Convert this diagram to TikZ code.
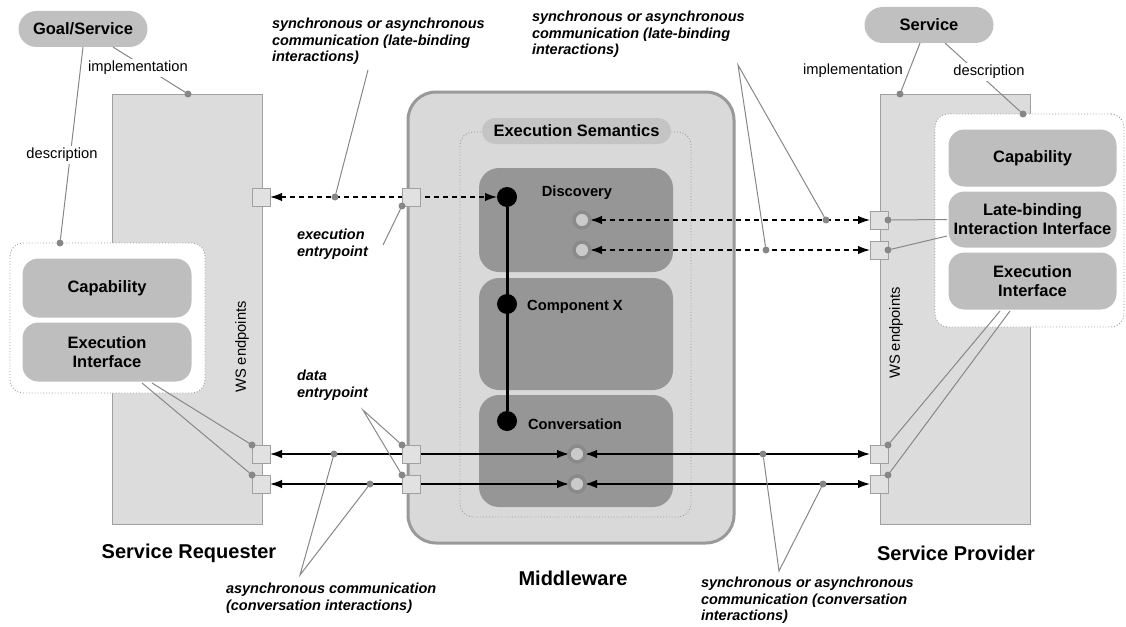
\documentclass[tikz,border=0pt]{standalone}
\usepackage{fontspec}
\setmainfont{Liberation Sans}
\usetikzlibrary{arrows.meta}

\definecolor{hostfill}{HTML}{DCDCDC}
\definecolor{hostline}{HTML}{A0A0A0}
\definecolor{mwfill}{HTML}{D9D9D9}
\definecolor{mwline}{HTML}{999999}
\definecolor{compfill}{HTML}{969696}
\definecolor{capfill}{HTML}{BEBEBE}
\definecolor{pillfill}{HTML}{C0C0C0}
\definecolor{esfill}{HTML}{C4C4C4}
\definecolor{portfill}{HTML}{E1E1E1}
\definecolor{portline}{HTML}{A0A0A0}
\definecolor{leader}{HTML}{878787}
\definecolor{ringline}{HTML}{8A8A8A}
\definecolor{ringfill}{HTML}{CACACA}
\definecolor{regionline}{HTML}{9A9A9A}

\pgfdeclarelayer{back}
\pgfdeclarelayer{wires}
\pgfsetlayers{back,wires,main}

\begin{document}
\begin{tikzpicture}[x=1pt,y=-1pt,
  every node/.style={inner sep=0pt, outer sep=0pt},
  lbl/.style={font=\fontsize{14.7}{17}\selectfont},
  cutlbl/.style={lbl, fill=white, inner sep=2pt},
  ital/.style={font=\fontsize{14.5}{16.5}\selectfont\bfseries\itshape, align=left, anchor=north west},
  boxlbl/.style={font=\fontsize{16.5}{19}\selectfont\bfseries, align=center},
  complbl/.style={font=\fontsize{14.7}{17}\selectfont\bfseries},
  title/.style={font=\fontsize{20}{24}\selectfont\bfseries},
  hostrect/.style={draw=hostline, fill=hostfill, line width=1pt, rectangle},
  mwbox/.style={draw=mwline, fill=mwfill, line width=3pt, rounded corners=28pt, rectangle},
  region/.style={draw=regionline, dotted, line width=0.9pt, rounded corners=13pt, rectangle},
  comp/.style={fill=compfill, rounded corners=20pt, rectangle},
  capbox/.style={boxlbl, draw=white, fill=capfill, line width=3pt, rounded corners=17pt, rectangle},
  pill/.style={boxlbl, fill=pillfill, rounded corners=18pt, minimum width=129pt, minimum height=36pt},
  espill/.style={boxlbl, fill=esfill, rounded corners=13pt},
  port/.style={draw=portline, fill=portfill, line width=1pt, minimum size=18pt, rectangle},
  bdot/.style={circle, fill=black, minimum size=20pt},
  ring/.style={circle, draw=ringline, fill=ringfill, line width=3.5pt, minimum size=16pt},
  tack/.style={circle, fill=leader, minimum size=7pt},
  lead/.style={draw=leader, line width=1pt},
  dasharrow/.style={line width=1.4pt, dash pattern=on 5pt off 4pt, {Latex[length=12pt,width=8.5pt]}-{Latex[length=12pt,width=8.5pt]}},
  solidarrow/.style={line width=1.3pt, {Latex[length=12pt,width=8.5pt]}-{Latex[length=12pt,width=8.5pt]}},
]
\useasboundingbox (0,0) rectangle (1126,626);

% ---------- containers and boxes ----------
\begin{pgfonlayer}{back}
  \node[hostrect, minimum width=150pt, minimum height=430pt] (req) at (187,309) {};
  \node[hostrect, minimum width=150pt, minimum height=430pt] (prov) at (955,309) {};
  \node[mwbox, minimum width=326pt, minimum height=451pt] (mw) at (571,317.5) {};
  \node[region, minimum width=231pt, minimum height=385pt] (es) at (575.5,324.5) {};
  \node[espill, minimum width=189pt, minimum height=26pt] (esl) at (576.5,131) {Execution Semantics};
  \node[comp, minimum width=194pt, minimum height=104pt] (disc) at (576,220) {};
  \node[comp, minimum width=194pt, minimum height=112pt] (cx) at (576,334) {};
  \node[comp, minimum width=194pt, minimum height=112pt] (conv) at (576,451) {};
  \node[region, fill=white, minimum width=195pt, minimum height=150pt] (lreg) at (107.5,318) {};
  \node[capbox, minimum width=172pt, minimum height=62pt] (lcap) at (107,288) {Capability};
  \node[capbox, minimum width=172pt, minimum height=62pt] (lexe) at (107,352) {Execution\\Interface};
  \node[region, fill=white, minimum width=189pt, minimum height=213pt] (rreg) at (1029.5,220.5) {};
  \node[capbox, minimum width=171pt, minimum height=60pt] (rcap) at (1032.5,158) {Capability};
  \node[capbox, minimum width=171pt, minimum height=59pt] (rlate) at (1032.5,219.5) {Late-binding\\Interaction Interface};
  \node[capbox, minimum width=171pt, minimum height=60pt] (rexe) at (1032.5,281) {Execution\\Interface};
  \node[pill] (goal) at (83,29) {Goal/Service};
  \node[pill] (svc) at (929,25) {Service};
\end{pgfonlayer}

% ---------- component labels ----------
\node[complbl] (discl) at (577,193) {Discovery};
\node[complbl] (cxl) at (575,307) {Component X};
\node[complbl] (convl) at (575,424) {Conversation};

% ---------- endpoints ----------
\node[port] (s1) at (261,197) {};
\node[port] (s2) at (261,454) {};
\node[port] (s3) at (261,484) {};
\node[port] (m1) at (411,197) {};
\node[port] (m2) at (411,454) {};
\node[port] (m3) at (411,484) {};
\node[port] (p1) at (879,220) {};
\node[port] (p2) at (879,250) {};
\node[port] (p3) at (879,454) {};
\node[port] (p4) at (879,484) {};

\node[bdot] (bd1) at (507,197) {};
\node[bdot] (bd2) at (507,304) {};
\node[bdot] (bd3) at (507,421) {};
\node[ring] (r1) at (582,220) {};
\node[ring] (r2) at (582,250) {};
\node[ring] (r3) at (577,454) {};
\node[ring] (r4) at (577,484) {};

% ---------- leader dots ----------
\node[tack] (ti1) at (188,94) {};
\node[tack] (ti2) at (900,94) {};
\node[tack] (td1) at (60,243) {};
\node[tack] (td2) at (1023,114) {};
\node[tack] (tl1) at (335,197) {};
\node[tack] (tr1) at (826,220) {};
\node[tack] (tr2) at (766,250) {};
\node[tack] (tm1) at (m1.south west) {};
\node[tack] (tm2) at (m2.north west) {};
\node[tack] (tm3) at (m3.north west) {};
\node[tack] (ts2) at (s2.north west) {};
\node[tack] (ts3) at (s3.north west) {};
\node[tack] (tp1) at (p1.east) {};
\node[tack] (tp2) at (p2.east) {};
\node[tack] (tp3) at (p3.north east) {};
\node[tack] (tp4) at (p4.north east) {};
\node[tack] (tb1) at (334,454) {};
\node[tack] (tb2) at (370,484) {};
\node[tack] (tb3) at (763,454) {};
\node[tack] (tb4) at (823,484) {};

\coordinate (lt) at (368,70);
\coordinate (rt) at (738,65);
\coordinate (ee) at (383,245);
\coordinate (de) at (363,410);
\coordinate (bl) at (300,575);
\coordinate (br) at (779,571);

% ---------- texts ----------
\node[cutlbl] (impl1) at (138,68) {implementation};
\node[cutlbl] (desc1) at (62,155) {description};
\node[lbl] (impl2) at (853,71) {implementation};
\node[cutlbl] (desc2) at (989,72) {description};

\node[ital] (lbtxt) at (272,18) {synchronous or asynchronous\\communication (late-binding\\interactions)};
\node[ital] (rbtxt) at (532,11) {synchronous or asynchronous\\communication (late-binding\\interactions)};
\node[ital] (eetxt) at (297,229) {execution\\entrypoint};
\node[ital] (detxt) at (297,370) {data\\entrypoint};
\node[ital] (bltxt) at (226,583) {asynchronous communication\\(conversation interactions)};
\node[ital] (brtxt) at (701,577) {synchronous or asynchronous\\communication (conversation\\interactions)};

\node[lbl, rotate=90] (wsl) at (242,347) {WS endpoints};
\node[lbl, rotate=90] (wsr) at (896,333) {WS endpoints};

\node[title] (treq) at (189,553) {Service Requester};
\node[title] (tmw) at (573,578) {Middleware};
\node[title] (tprov) at (956,553) {Service Provider};

% ---------- connectors ----------
\begin{pgfonlayer}{wires}
  \draw[line width=3pt] (bd1) -- (bd3);
  \draw[dasharrow] (s1.east) -- (bd1.west);
  \draw[dasharrow] (r1.east) -- (p1.west);
  \draw[dasharrow] (r2.east) -- (p2.west);
  \draw[solidarrow] (s2.east) -- (r3.west);
  \draw[solidarrow] (r3.east) -- (p3.west);
  \draw[solidarrow] (s3.east) -- (r4.west);
  \draw[solidarrow] (r4.east) -- (p4.west);

  \draw[lead] ([xshift=30pt]goal.south) -- (ti1);
  \draw[lead] (goal.south) -- (td1);
  \draw[lead] ([xshift=-9pt]svc.south) -- (ti2);
  \draw[lead] ([xshift=16pt]svc.south) -- (td2);
  \draw[lead] (lt) -- (tl1);
  \draw[lead] (tr1) -- (rt) -- (tr2);
  \draw[lead] (ee) -- (tm1);
  \draw[lead] (tm2) -- (de) -- (tm3);
  \draw[lead] ([xshift=35pt]lexe.south) -- (ts3);
  \draw[lead] ([xshift=45pt]lexe.south) -- (ts2);
  \draw[lead] ([xshift=-32.5pt]rexe.south) -- (tp3);
  \draw[lead] ([xshift=-22.5pt]rexe.south) -- (tp4);
  \draw[lead] (tp1) -- (rlate.west);
  \draw[lead] (tp2) -- ([yshift=-16.5pt]rlate.west);
  \draw[lead] (tb1) -- (bl) -- (tb2);
  \draw[lead] (tb3) -- (br) -- (tb4);
\end{pgfonlayer}
\end{tikzpicture}
\end{document}
